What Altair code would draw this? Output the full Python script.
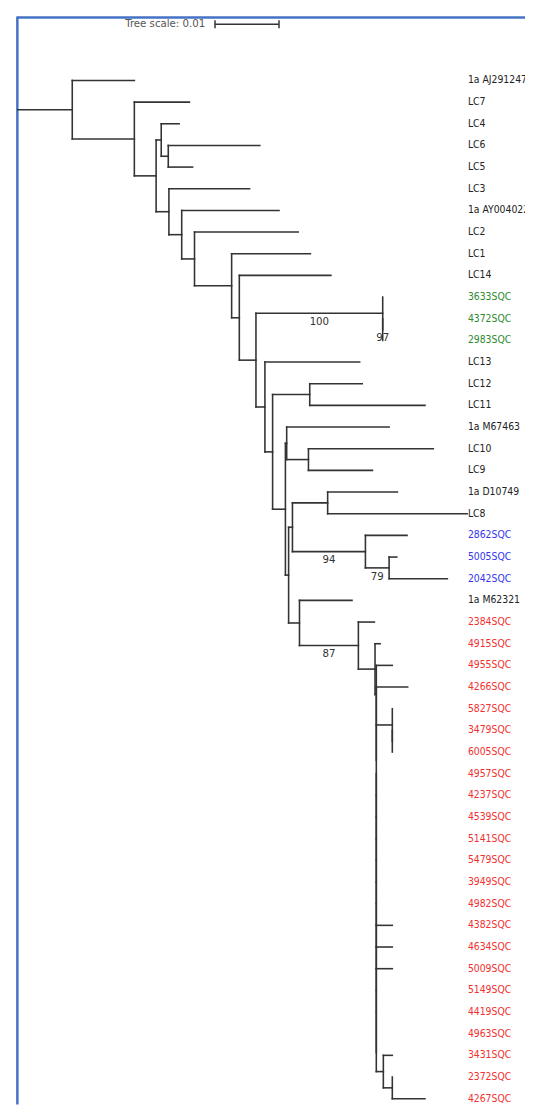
import altair as alt
import pandas as pd

# ---------------- data ----------------
leaf_names = [
    "1a AJ291247", "LC7", "LC4", "LC6", "LC5", "LC3", "1a AY004022", "LC2", "LC1", "LC14",
    "3633SQC", "4372SQC", "2983SQC", "LC13", "LC12", "LC11", "1a M67463", "LC10", "LC9",
    "1a D10749", "LC8", "2862SQC", "5005SQC", "2042SQC", "1a M62321", "2384SQC", "4915SQC",
    "4955SQC", "4266SQC", "5827SQC", "3479SQC", "6005SQC", "4957SQC", "4237SQC", "4539SQC",
    "5141SQC", "5479SQC", "3949SQC", "4982SQC", "4382SQC", "4634SQC", "5009SQC", "5149SQC",
    "4419SQC", "4963SQC", "3431SQC", "2372SQC", "4267SQC",
]
leaf_groups = (["ref"] * 10 + ["green"] * 3 + ["ref"] * 8 + ["blue"] * 3 + ["ref"] + ["red"] * 23)

edge_child = [
    "A", "1a AJ291247", "B", "LC7", "C", "D", "LC4", "E", "LC6", "LC5",
    "F", "LC3", "G", "1a AY004022", "H", "LC2", "I", "LC1", "J", "LC14",
    "K", "L", "3633SQC", "M", "4372SQC", "2983SQC", "N", "LC13", "O", "P",
    "LC12", "LC11", "Q", "Q1", "1a M67463", "R", "LC10", "LC9", "Q2", "Q3",
    "S", "1a D10749", "LC8", "T", "2862SQC", "U", "5005SQC", "2042SQC", "V", "1a M62321",
    "W", "2384SQC", "X", "4915SQC", "N2", "4955SQC", "N3", "4266SQC", "N4", "Y",
    "5827SQC", "Y2", "3479SQC", "6005SQC", "N5", "4957SQC", "N6", "4237SQC", "N7", "4539SQC",
    "N8", "5141SQC", "N9", "5479SQC", "N10", "3949SQC", "N11", "4982SQC", "N12", "4382SQC",
    "N13", "4634SQC", "N14", "5009SQC", "N15", "5149SQC", "N16", "4419SQC", "N17", "4963SQC",
    "Z", "3431SQC", "Z2", "2372SQC", "4267SQC",
]
edge_parent = [
    "root", "A", "A", "B", "B", "C", "D", "D", "E", "E",
    "C", "F", "F", "G", "G", "H", "H", "I", "I", "J",
    "J", "K", "L", "L", "M", "M", "K", "N", "N", "O",
    "P", "P", "O", "Q", "Q1", "Q1", "R", "R", "Q", "Q2",
    "Q3", "S", "S", "Q3", "T", "T", "U", "U", "Q2", "V",
    "V", "W", "W", "X", "X", "N2", "N2", "N3", "N3", "N4",
    "Y", "Y", "Y2", "Y2", "N4", "N5", "N5", "N6", "N6", "N7",
    "N7", "N8", "N8", "N9", "N9", "N10", "N10", "N11", "N11", "N12",
    "N12", "N13", "N13", "N14", "N14", "N15", "N15", "N16", "N16", "N17",
    "N17", "Z", "Z", "Z2", "Z2",
]
edge_length = [
    0.0085, 0.0097, 0.0097, 0.0086, 0.0034, 0.0008, 0.0028, 0.0011, 0.0143, 0.0038,
    0.0020, 0.0126, 0.0020, 0.0152, 0.0020, 0.0162, 0.0058, 0.0123, 0.0012, 0.0143,
    0.0026, 0.0198, 0.0, 0.0, 0.0, 0.0, 0.0014, 0.0148, 0.0012, 0.0058,
    0.0082, 0.0180, 0.0020, 0.0002, 0.0160, 0.0034, 0.0195, 0.0100, 0.0005, 0.0006,
    0.0055, 0.0109, 0.0218, 0.0114, 0.0065, 0.0037, 0.0012, 0.0091, 0.0017, 0.0082,
    0.0092, 0.0025, 0.0026, 0.0008, 0.0002, 0.0025, 0.0, 0.0049, 0.0, 0.0025,
    0.0, 0.0, 0.0, 0.0, 0.0, 0.0, 0.0, 0.0, 0.0, 0.0,
    0.0, 0.0, 0.0, 0.0, 0.0, 0.0, 0.0, 0.0, 0.0, 0.0025,
    0.0, 0.0025, 0.0, 0.0025, 0.0, 0.0, 0.0, 0.0, 0.0, 0.0,
    0.0011, 0.0014, 0.0014, 0.0, 0.0051,
]

bootstrap_nodes = ["L", "M", "T", "U", "W"]
bootstrap_values = ["100", "97", "94", "79", "87"]

scale_value = 0.01
scale_start = 0.0308

group_domain = ["ref", "green", "blue", "red"]
group_colors = ["#222222", "#2e8a2e", "#3434ee", "#f03030"]

# ---------------- layout computed from the tree ----------------
depth = {"root": 0.0}
parent_of = {}
children = {}
for c, p, l in zip(edge_child, edge_parent, edge_length):
    depth[c] = depth[p] + l
    parent_of[c] = p
    children.setdefault(p, []).append(c)

ypos = {name: i for i, name in enumerate(leaf_names)}


def node_y(n):
    if n in ypos:
        return ypos[n]
    ys = [node_y(c) for c in children[n]]
    ypos[n] = (min(ys) + max(ys)) / 2
    return ypos[n]


node_y("root")

segs = []
for c, p in parent_of.items():
    if depth[c] - depth[p] > 1e-9:
        segs.append({"x": depth[p], "x2": depth[c], "y": ypos[c], "y2": ypos[c]})
for p, cs in children.items():
    ys = [ypos[c] for c in cs]
    if max(ys) - min(ys) > 1e-9:
        segs.append({"x": depth[p], "x2": depth[p], "y": min(ys), "y2": max(ys)})
seg_df = pd.DataFrame(segs)

leaf_df = pd.DataFrame({"name": leaf_names, "group": leaf_groups,
                        "y": [ypos[n] for n in leaf_names]})

boot_df = pd.DataFrame({
    "value": bootstrap_values,
    "x": [(depth[n] + depth[parent_of[n]]) / 2 for n in bootstrap_nodes],
    "y": [ypos[n] for n in bootstrap_nodes],
})

scale_df = pd.DataFrame({"x": [scale_start], "x2": [scale_start + scale_value],
                         "label": [f"Tree scale: {scale_value}"]})
scale_ticks = pd.DataFrame({"x": [scale_start, scale_start + scale_value]})

# ---------------- chart ----------------
W, H = 525, 1105
PX_PER_UNIT = 6500.0
ROW = 22.0
xscale = alt.Scale(domain=[-10 / PX_PER_UNIT, (W - 10) / PX_PER_UNIT], range=[0, W],
                   nice=False, zero=False)
yscale = alt.Scale(domain=[-65 / ROW, (H - 65) / ROW], range=[0, H], nice=False, zero=False)
FONT = "DejaVu Sans Condensed, DejaVu Sans, sans-serif"
LINE = "#333333"

branches = alt.Chart(seg_df).mark_rule(color=LINE, strokeWidth=1.6, strokeCap="square").encode(
    x=alt.X("x:Q", scale=xscale, axis=None),
    x2="x2:Q",
    y=alt.Y("y:Q", scale=yscale, axis=None),
    y2="y2:Q",
)

labels = alt.Chart(leaf_df).mark_text(align="left", baseline="middle", font=FONT, fontSize=10.5).encode(
    x=alt.value(467),
    y=alt.Y("y:Q", scale=yscale, axis=None),
    text="name:N",
    color=alt.Color("group:N", scale=alt.Scale(domain=group_domain, range=group_colors), legend=None),
)

boots = alt.Chart(boot_df).mark_text(align="center", baseline="middle", dy=9, font=FONT,
                                     fontSize=11.5, color=LINE).encode(
    x=alt.X("x:Q", scale=xscale, axis=None),
    y=alt.Y("y:Q", scale=yscale, axis=None),
    text="value:N",
)

scale_bar = alt.Chart(scale_df).mark_rule(color=LINE, strokeWidth=1.5).encode(
    x=alt.X("x:Q", scale=xscale, axis=None), x2="x2:Q", y=alt.value(8),
)
scale_tick = alt.Chart(scale_ticks).mark_rule(color=LINE, strokeWidth=1.5).encode(
    x=alt.X("x:Q", scale=xscale, axis=None), y=alt.value(4), y2=alt.value(12),
)
scale_text = alt.Chart(scale_df).mark_text(align="right", baseline="middle", dx=-10, font=FONT,
                                           fontSize=11.5, color="#555555").encode(
    x=alt.X("x:Q", scale=xscale, axis=None), y=alt.value(8), text="label:N",
)

frame_df = pd.DataFrame({"a": [0]})
frame_left = alt.Chart(frame_df).mark_rule(color="#4472c4", strokeWidth=2.5).encode(
    x=alt.value(9.5), y=alt.value(0), y2=alt.value(H),
)
frame_top = alt.Chart(frame_df).mark_rule(color="#4472c4", strokeWidth=2.5).encode(
    x=alt.value(9.5), x2=alt.value(W), y=alt.value(1),
)

chart = alt.layer(
    frame_left, frame_top, branches, labels, boots, scale_bar, scale_tick, scale_text
).properties(
    width=W, height=H,
    autosize=alt.AutoSizeParams(type="none"),
    padding={"left": 0, "top": 0, "right": 0, "bottom": 0},
).configure_view(stroke=None)

chart.save("out.html", embed_options={"renderer": "svg", "actions": False})
